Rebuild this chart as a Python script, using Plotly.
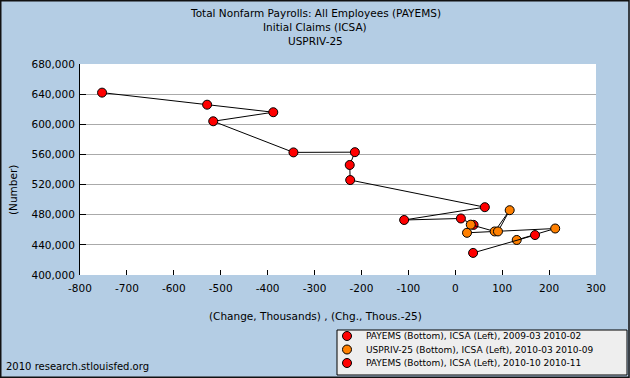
import plotly.graph_objects as go

# Data
payems1_x = [-753, -529, -388, -516, -345, -214, -225, -224, 63, -109, 12, 39]
icsa1_y = [642000, 626000, 616000, 604000, 562700, 563000, 546000, 526000, 490000, 473000, 475000, 466500]
uspriv_x = [131, 213, 25, 33, 84, 116, 91]
icsa2_y = [446500, 461700, 456000, 466800, 457800, 486000, 457800]
payems3_x = [170, 38]
icsa3_y = [453000, 429300]

legend_names = [
    "PAYEMS (Bottom), ICSA (Left), 2009-03 2010-02",
    "USPRIV-25 (Bottom), ICSA (Left), 2010-03 2010-09",
    "PAYEMS (Bottom), ICSA (Left), 2010-10 2010-11",
]
series_colors = ["#FF0000", "#FF8000", "#FF0000"]
x_ticks = [-800, -700, -600, -500, -400, -300, -200, -100, 0, 100, 200, 300]
x_ticktext = ["-800", "-700", "-600", "-500", "-400", "-300", "-200", "-100", "0", "100", "200", "300"]
y_ticks = [400000, 440000, 480000, 520000, 560000, 600000, 640000, 680000]
title_lines = ["Total Nonfarm Payrolls: All Employees (PAYEMS)", "Initial Claims (ICSA)", "USPRIV-25"]

W, H = 630, 378
ML, MR, MT, MB = 80, 34, 64, 103
PW, PH = W - ML - MR, H - MT - MB

BG = "#B4CDE4"
FONT = "DejaVu Sans"


def mk(color):
    return dict(symbol="circle", size=9, color=color, line=dict(color="black", width=1))


def px2paper_x(px):
    return (px - ML) / PW


def px2paper_y(py):
    return (H - MB - py) / PH


fig = go.Figure()
for xs, ys, nm, col in [(payems1_x, icsa1_y, legend_names[0], series_colors[0]),
                        (uspriv_x, icsa2_y, legend_names[1], series_colors[1]),
                        (payems3_x, icsa3_y, legend_names[2], series_colors[2])]:
    fig.add_trace(go.Scatter(x=xs, y=ys, mode="lines+markers", name=nm, showlegend=False,
                             line=dict(color="black", width=1), marker=mk(col), cliponaxis=False,
                             hoverinfo="skip"))

fig.update_layout(
    width=W, height=H,
    margin=dict(l=ML, r=MR, t=MT, b=MB, autoexpand=False),
    paper_bgcolor=BG, plot_bgcolor="white",
    font=dict(family=FONT, size=11, color="black"),
    xaxis=dict(range=[-800, 300], tickvals=x_ticks, ticktext=x_ticktext, ticks="inside", ticklen=5,
               tickcolor="black", showline=False, showgrid=False, ticklabelstandoff=5,
               zeroline=False, tickfont=dict(size=10.5), automargin=False),
    yaxis=dict(range=[400000, 680000], tickvals=y_ticks, tickformat=",d", ticks="inside", ticklen=6,
               tickcolor="black", showline=True, linecolor="black", linewidth=1, ticklabelstandoff=2,
               showgrid=True, gridcolor="#AAAAAA", gridwidth=1, zeroline=False,
               tickfont=dict(size=10.5), automargin=False),
    showlegend=False,
)

# title lines
for i, t in enumerate(title_lines):
    fig.add_annotation(text=t, xref="paper", yref="paper", x=px2paper_x(315), y=px2paper_y(13 + 14 * i),
                       xanchor="center", yanchor="middle", showarrow=False,
                       font=dict(family=FONT, size=10.5))

# axis titles centered on figure
fig.add_annotation(text="(Change, Thousands) , (Chg., Thous.-25)", xref="paper", yref="paper",
                   x=px2paper_x(315), y=px2paper_y(316), xanchor="center", yanchor="middle",
                   showarrow=False, font=dict(family=FONT, size=10.5))
fig.add_annotation(text="(Number)", xref="paper", yref="paper", textangle=-90,
                   x=px2paper_x(13), y=px2paper_y(190), xanchor="center", yanchor="middle",
                   showarrow=False, font=dict(family=FONT, size=10.5))
fig.add_annotation(text="2010 research.stlouisfed.org", xref="paper", yref="paper",
                   x=px2paper_x(4), y=px2paper_y(366), xanchor="left", yanchor="middle",
                   showarrow=False, font=dict(family=FONT, size=10))

# legend box
fig.add_shape(type="rect", xref="paper", yref="paper",
              x0=px2paper_x(337), x1=px2paper_x(627), y0=px2paper_y(375), y1=px2paper_y(330),
              line=dict(color="black", width=1), fillcolor="#EEEEEE", layer="above")
for i, (nm, col) in enumerate(zip(legend_names, series_colors)):
    cy = 336 + 13.5 * i
    fig.add_shape(type="circle", xref="paper", yref="paper",
                  x0=px2paper_x(342.5), x1=px2paper_x(351.5), y0=px2paper_y(cy + 4.5), y1=px2paper_y(cy - 4.5),
                  line=dict(color="black", width=1), fillcolor=col, layer="above")
    fig.add_annotation(text=nm, xref="paper", yref="paper", x=px2paper_x(364), y=px2paper_y(cy),
                       xanchor="left", yanchor="middle", showarrow=False,
                       font=dict(family=FONT, size=9))

# outer frame
fig.add_shape(type="rect", xref="paper", yref="paper",
              x0=px2paper_x(0.75), x1=px2paper_x(W - 1), y0=px2paper_y(H - 0.75), y1=px2paper_y(0.75),
              line=dict(color="#111111", width=1.5), fillcolor="rgba(0,0,0,0)", layer="above")

fig.write_html("out.html", config={"displayModeBar": False, "staticPlot": True},
               post_script="document.body.style.margin='0';document.body.style.padding='0';"
                           "document.documentElement.style.overflow='hidden';")
